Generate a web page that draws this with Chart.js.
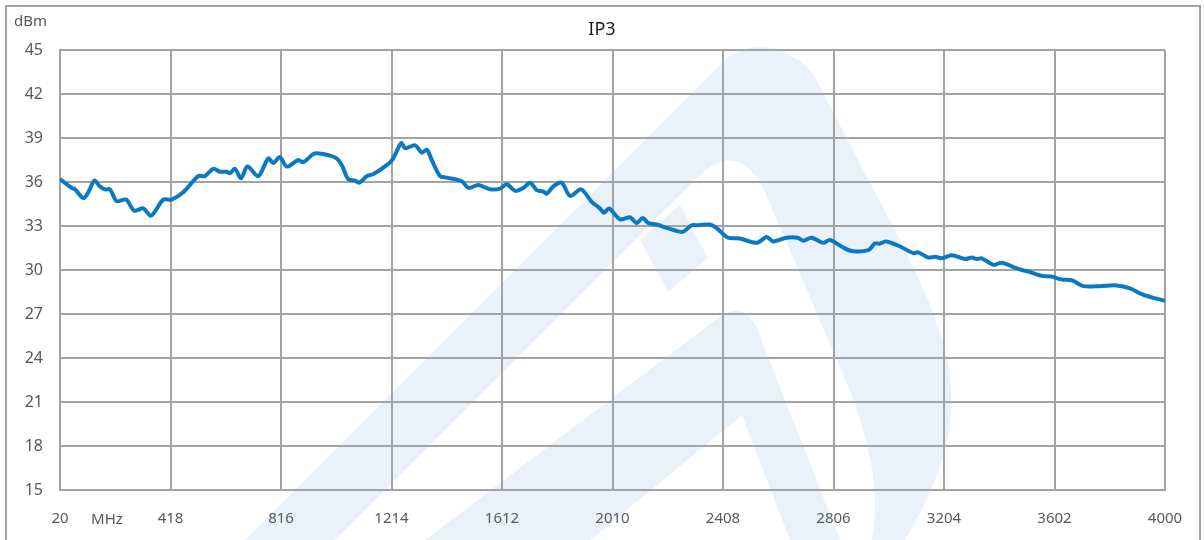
<!DOCTYPE html>
<html>
<head>
<meta charset="utf-8">
<title>IP3</title>
<script src="https://cdn.jsdelivr.net/npm/chart.js@4.4.1/dist/chart.umd.min.js"></script>
<style>
  html, body { margin: 0; padding: 0; background: #fff; }
  #wrap { width: 1204px; height: 540px; }
</style>
</head>
<body>
<div id="wrap"><canvas id="ip3-chart" width="1204" height="540"></canvas></div>
<script>
// frequency in MHz
const freqMHz = [
  20, 62, 74, 104, 122, 144, 164, 182, 200, 224, 258, 287, 320, 348, 392, 422,
  464, 518, 542, 572, 596, 620, 632, 650, 672, 695, 734, 770, 788, 812, 837, 878,
  896, 938, 993, 1017, 1035, 1058, 1083, 1098, 1125, 1149, 1197, 1220, 1249, 1263,
  1299, 1323, 1341, 1359, 1389, 1413, 1467, 1491, 1527, 1569, 1605, 1629, 1659, 1689,
  1713, 1737, 1761, 1773, 1797, 1827, 1857, 1897, 1935, 1965, 1979, 1998, 2037, 2073,
  2097, 2119, 2139, 2169, 2217, 2263, 2295, 2319, 2361, 2385, 2427, 2469, 2529, 2565,
  2589, 2637, 2676, 2697, 2727, 2769, 2793, 2835, 2871, 2931, 2955, 2973, 2997, 3046,
  3093, 3111, 3147, 3172, 3196, 3232, 3280, 3304, 3322, 3340, 3382, 3412, 3454, 3484,
  3508, 3556, 3592, 3628, 3664, 3706, 3766, 3826, 3874, 3916, 3958, 4000
];
// IP3 in dBm
const ip3dBm = [
  36.2, 35.6, 35.5, 34.9, 35.3, 36.1, 35.7, 35.5, 35.5, 34.7, 34.8, 34.05, 34.2, 33.7, 34.8, 34.8,
  35.3, 36.4, 36.4, 36.9, 36.7, 36.7, 36.6, 36.9, 36.25, 37.05, 36.4, 37.6, 37.3, 37.7, 37.05, 37.5,
  37.35, 37.95, 37.8, 37.6, 37.15, 36.2, 36.1, 35.95, 36.4, 36.55, 37.15, 37.6, 38.65, 38.3,
  38.5, 38.0, 38.2, 37.5, 36.4, 36.3, 36.05, 35.6, 35.8, 35.5, 35.55, 35.85, 35.4, 35.6,
  35.95, 35.45, 35.35, 35.2, 35.7, 35.95, 35.05, 35.5, 34.65, 34.2, 33.9, 34.2, 33.45, 33.6,
  33.2, 33.55, 33.2, 33.1, 32.8, 32.6, 33.05, 33.05, 33.1, 32.85, 32.2, 32.15, 31.85, 32.25,
  31.95, 32.2, 32.2, 32.0, 32.2, 31.85, 32.05, 31.6, 31.3, 31.35, 31.8, 31.8, 31.95, 31.6,
  31.15, 31.2, 30.85, 30.9, 30.8, 31.0, 30.75, 30.85, 30.75, 30.8, 30.35, 30.5, 30.2, 30.0,
  29.9, 29.6, 29.55, 29.35, 29.3, 28.9, 28.9, 28.95, 28.75, 28.35, 28.1, 27.9
];
const xTicks = [20, 418, 816, 1214, 1612, 2010, 2408, 2806, 3204, 3602, 4000];
const yTicks = [15, 18, 21, 24, 27, 30, 33, 36, 39, 42, 45];

const gridGray = '#a3a3a3';
const textGray = '#595959';
const fontName = "'Noto Sans', 'Open Sans', sans-serif";

// white page, faint logo watermark, outer frame and the loose captions
const backdrop = {
  id: 'backdrop',
  beforeDraw(chart) {
    const c = chart.ctx;
    c.save();
    c.fillStyle = '#ffffff';
    c.fillRect(0, 0, chart.width, chart.height);

    c.fillStyle = '#eaf1f8';
    c.beginPath();
    c.moveTo(245, 540);
    c.lineTo(728, 57);
    c.quadraticCurveTo(768, 30, 812, 72);
    c.lineTo(900, 240);
    c.bezierCurveTo(960, 360, 975, 420, 905, 540);
    c.closePath();
    c.fill();

    c.fillStyle = '#ffffff';
    c.beginPath();
    c.moveTo(335, 540);
    c.lineTo(698, 177);
    c.quadraticCurveTo(735, 140, 762, 185);
    c.lineTo(842, 372);
    c.quadraticCurveTo(885, 470, 872, 540);
    c.closePath();
    c.fill();

    c.fillStyle = '#eaf1f8';
    c.beginPath();
    c.moveTo(425, 540);
    c.lineTo(718, 318);
    c.quadraticCurveTo(742, 300, 756, 326);
    c.lineTo(840, 540);
    c.lineTo(790, 540);
    c.lineTo(742, 415);
    c.lineTo(590, 540);
    c.closePath();
    c.fill();

    c.beginPath();
    c.moveTo(640, 240);
    c.lineTo(680, 205);
    c.lineTo(708, 258);
    c.lineTo(668, 292);
    c.closePath();
    c.fill();

    c.strokeStyle = gridGray;
    c.lineWidth = 2;
    c.strokeRect(6, 6, 1194, 560);
    c.restore();
  },
  afterDraw(chart) {
    const c = chart.ctx;
    c.save();
    c.textBaseline = 'middle';
    c.fillStyle = '#1a1a1a';
    c.font = '18px ' + fontName;
    c.textAlign = 'center';
    c.fillText('IP3', 602, 30);
    c.fillStyle = textGray;
    c.font = '15px ' + fontName;
    c.textAlign = 'left';
    c.fillText('dBm', 14, 22);
    c.textAlign = 'center';
    c.fillText('MHz', 107, 520);
    c.restore();
  }
};

const ctx = document.getElementById('ip3-chart').getContext('2d');

const ip3Chart = new Chart(ctx, {
  type: 'line',
  data: {
    datasets: [{
      label: 'IP3',
      data: freqMHz.map((f, i) => ({ x: f, y: ip3dBm[i] })),
      borderColor: '#0a79c3',
      borderWidth: 4,
      pointRadius: 0,
      tension: 0.3,
      fill: false
    }]
  },
  options: {
    responsive: false,
    animation: false,
    layout: {
      padding: { left: 0, right: 39, top: 50, bottom: 0 }
    },
    plugins: {
      legend: { display: false },
      tooltip: { enabled: false },
      title: { display: false }
    },
    scales: {
      x: {
        type: 'linear',
        min: xTicks[0],
        max: xTicks[xTicks.length - 1],
        afterBuildTicks(scale) {
          scale.ticks = xTicks.map(v => ({ value: v }));
        },
        afterFit(scale) { scale.height = 50; },
        grid: { color: gridGray, lineWidth: 2, drawTicks: false },
        border: { color: gridGray, width: 2 },
        ticks: {
          color: textGray,
          font: { family: fontName, size: 15 },
          padding: 20,
          maxRotation: 0,
          autoSkip: false,
          callback: v => String(v)
        }
      },
      y: {
        min: yTicks[0],
        max: yTicks[yTicks.length - 1],
        afterBuildTicks(scale) {
          scale.ticks = yTicks.map(v => ({ value: v }));
        },
        afterFit(scale) { scale.width = 60; },
        grid: { color: gridGray, lineWidth: 2, drawTicks: false },
        border: { color: gridGray, width: 2 },
        ticks: {
          color: textGray,
          font: { family: fontName, size: 16 },
          padding: 17,
          callback: v => String(v)
        }
      }
    }
  },
  plugins: [backdrop]
});
</script>
</body>
</html>
